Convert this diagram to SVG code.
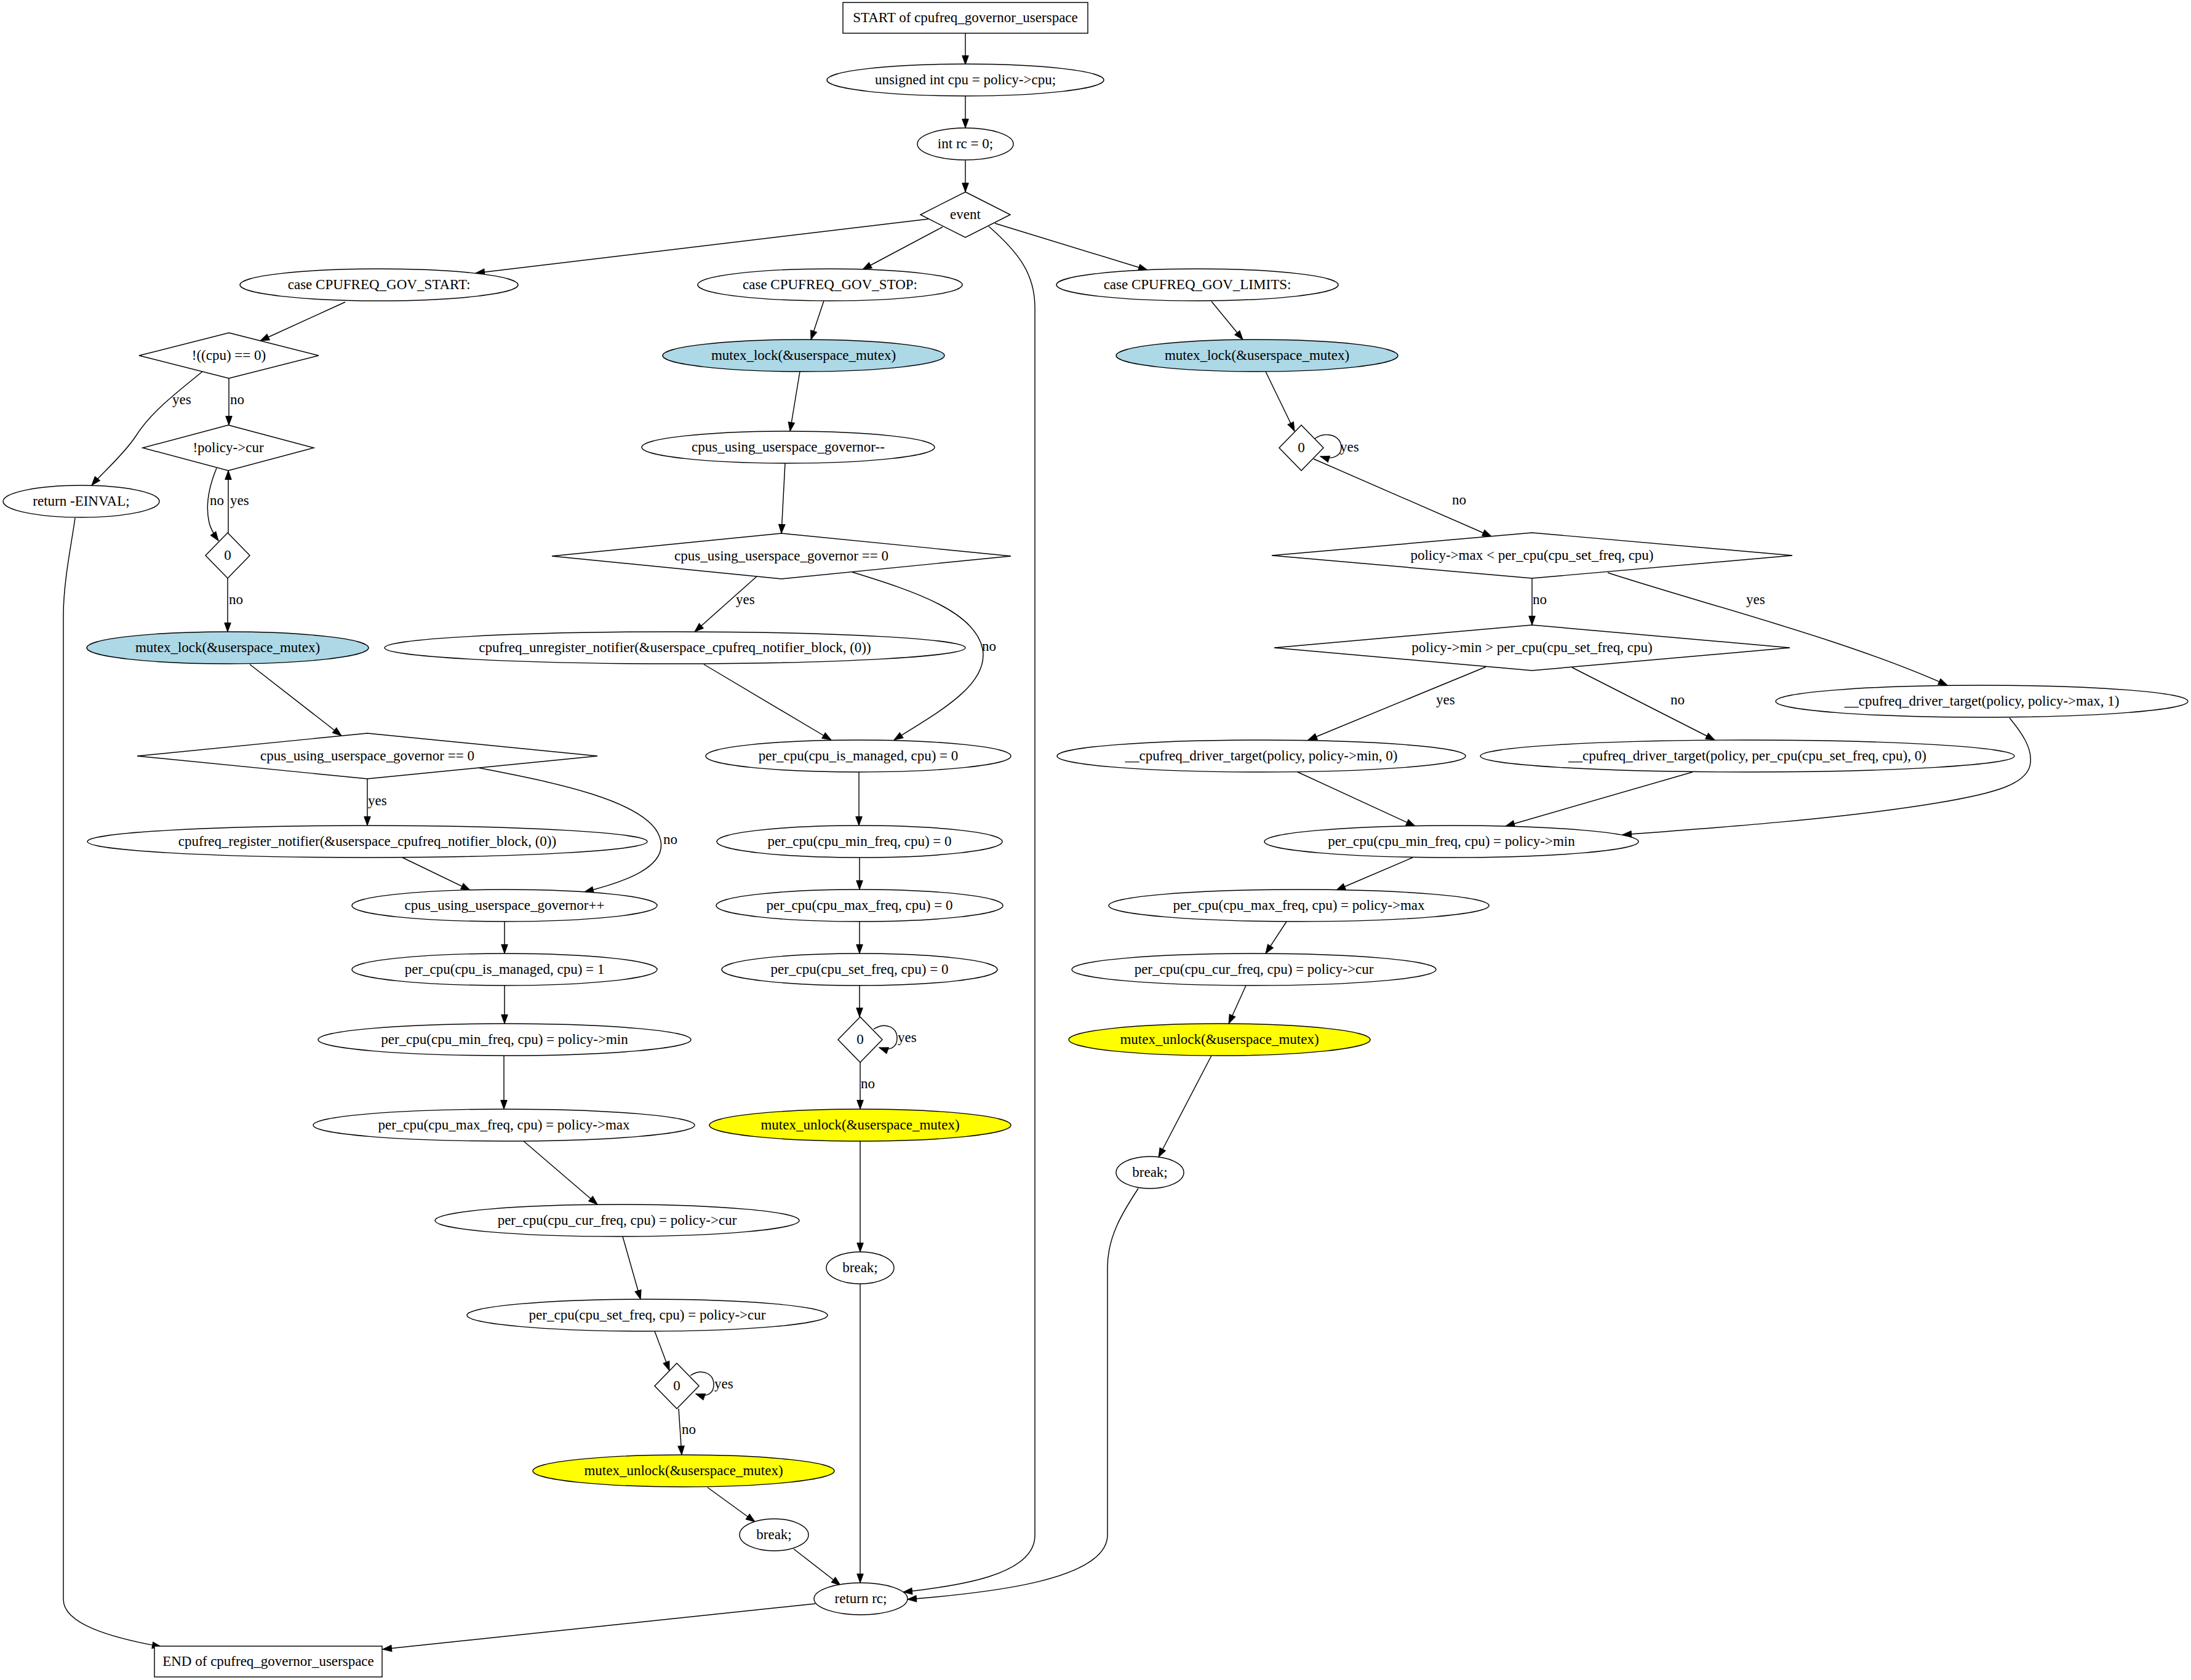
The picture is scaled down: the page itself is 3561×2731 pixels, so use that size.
<svg xmlns="http://www.w3.org/2000/svg" width="3561" height="2731" viewBox="0 0 3561 2731">
<defs>
<style>
.n ellipse,.n polygon,.n rect{fill:#fff;stroke:#000;stroke-width:1.45}
.n.blue ellipse{fill:#add8e6}
.n.yel ellipse{fill:#ffff00}
text{font-family:"Liberation Serif","Times New Roman",serif;font-size:23px;fill:#000}
.n text{text-anchor:middle}
#edges path{fill:none;stroke:#000;stroke-width:1.45;marker-end:url(#ah)}
</style>
<marker id="ah" markerWidth="16" markerHeight="12" refX="14.5" refY="5.25" orient="auto" markerUnits="userSpaceOnUse" overflow="visible">
<path d="M0,0 L14.5,5.25 L0,10.5 z" fill="#000" stroke="#000" stroke-width="1"/>
</marker>
</defs>
<rect width="3561" height="2731" fill="#fff"/>

<g id="edges">
<path d="M1569,54 L1569,105"/>
<path d="M1569,156 L1569,208"/>
<path d="M1569,261 L1569,312"/>
<path d="M1509,356 L773,444"/>
<path d="M1532,369 L1402,438"/>
<path d="M1617,363 L1865,439"/>
<path d="M1607,368 C1655,410 1682,445 1682,500 L1682,2496 C1682,2560 1560,2578 1468,2588"/>
<path d="M561,491 L423,554"/>
<path d="M329,604 C285,640 245,670 220,710 C200,740 165,770 149,789"/>
<path d="M372,615 L372,691"/>
<path d="M352,761 C340,790 333,820 340,850 C343,862 350,872 355,879"/>
<path d="M371,866 L371,765"/>
<path d="M370,940 L370,1027"/>
<path d="M122,842 C117,880 103,945 103,1000 L103,2600 C103,2640 180,2662 262,2677"/>
<path d="M406,1080 L555,1196"/>
<path d="M597,1266 L597,1342"/>
<path d="M777,1248 C890,1270 1050,1300 1072,1360 C1090,1410 1010,1435 950,1450"/>
<path d="M654,1394 L764,1447"/>
<path d="M820,1498 L820,1550"/>
<path d="M820,1602 L820,1664"/>
<path d="M819,1716 L819,1803"/>
<path d="M851,1855 L971,1958"/>
<path d="M1012,2010 L1041,2112"/>
<path d="M1064,2164 L1088,2228"/>
<path d="M1122,2236 C1140,2224 1160,2232 1160,2251 C1160,2266 1148,2272 1131,2266"/>
<path d="M1103,2290 L1108,2365"/>
<path d="M1150,2418 L1227,2474"/>
<path d="M1290,2518 L1366,2577"/>
<path d="M1325,2607 L622,2681"/>
<path d="M1339,489 L1318,552"/>
<path d="M1300,604 L1284,701"/>
<path d="M1276,753 L1270,867"/>
<path d="M1230,937 L1129,1027"/>
<path d="M1385,930 C1490,962 1585,995 1597,1055 C1608,1115 1520,1160 1453,1203"/>
<path d="M1144,1080 L1351,1203"/>
<path d="M1396,1255 L1396,1342"/>
<path d="M1397,1394 L1397,1446"/>
<path d="M1397,1498 L1397,1550"/>
<path d="M1397,1602 L1397,1653"/>
<path d="M1420,1673 C1438,1661 1458,1669 1458,1688 C1458,1703 1446,1709 1429,1703"/>
<path d="M1398,1727 L1398,1803"/>
<path d="M1398,1855 L1398,2035"/>
<path d="M1398,2087 L1398,2573"/>
<path d="M1969,490 L2020,552"/>
<path d="M2057,604 L2104,701"/>
<path d="M2137,713 C2155,700 2180,708 2180,727 C2180,742 2165,748 2146,742"/>
<path d="M2135,746 L2424,872"/>
<path d="M2490,940 L2490,1016"/>
<path d="M2613,931 C2780,985 3000,1040 3165,1114"/>
<path d="M2415,1084 L2126,1203"/>
<path d="M2555,1085 L2787,1203"/>
<path d="M2109,1255 L2300,1343"/>
<path d="M2751,1255 L2447,1343"/>
<path d="M3266,1167 C3285,1190 3303,1215 3300,1240 C3297,1275 3240,1290 3150,1305 C3000,1330 2800,1345 2637,1357"/>
<path d="M2296,1394 L2172,1447"/>
<path d="M2091,1498 L2057,1550"/>
<path d="M2025,1602 L1997,1664"/>
<path d="M1969,1716 L1883,1881"/>
<path d="M1850,1932 C1825,1970 1800,2010 1800,2060 L1800,2495 C1800,2570 1600,2590 1475,2600"/>
<text x="280" y="657">yes</text>
<text x="374" y="657">no</text>
<text x="341" y="821">no</text>
<text x="374" y="821">yes</text>
<text x="372" y="982">no</text>
<text x="598" y="1309">yes</text>
<text x="1078" y="1372">no</text>
<text x="1161" y="2257">yes</text>
<text x="1108" y="2331">no</text>
<text x="1196" y="982">yes</text>
<text x="1596" y="1058">no</text>
<text x="1459" y="1694">yes</text>
<text x="1399" y="1769">no</text>
<text x="2178" y="734">yes</text>
<text x="2360" y="820">no</text>
<text x="2491" y="982">no</text>
<text x="2838" y="982">yes</text>
<text x="2334" y="1145">yes</text>
<text x="2715" y="1145">no</text>
</g>

<g id="start" class="n"><rect x="1370" y="4" width="398" height="50"/><text x="1569" y="36">START of cpufreq_governor_userspace</text></g>
<g id="unsigned_cpu" class="n"><ellipse cx="1569" cy="130" rx="225" ry="26"/><text x="1569" y="137">unsigned int cpu = policy-&gt;cpu;</text></g>
<g id="int_rc" class="n"><ellipse cx="1569" cy="234" rx="78" ry="26"/><text x="1569" y="241">int rc = 0;</text></g>
<g id="event" class="n"><polygon points="1569,312 1642,349 1569,386 1496,349"/><text x="1569" y="356">event</text></g>

<g id="case_start" class="n"><ellipse cx="616" cy="463" rx="226" ry="26"/><text x="616" y="470">case CPUFREQ_GOV_START:</text></g>
<g id="case_stop" class="n"><ellipse cx="1349" cy="463" rx="215" ry="26"/><text x="1349" y="470">case CPUFREQ_GOV_STOP:</text></g>
<g id="case_limits" class="n"><ellipse cx="1946" cy="463" rx="229" ry="26"/><text x="1946" y="470">case CPUFREQ_GOV_LIMITS:</text></g>

<g id="cond_cpu" class="n"><polygon points="372,541 518,578 372,615 226,578"/><text x="372" y="585">!((cpu) == 0)</text></g>
<g id="ret_einval" class="n"><ellipse cx="132" cy="815" rx="127" ry="26"/><text x="132" y="822">return -EINVAL;</text></g>
<g id="cond_cur" class="n"><polygon points="371,691 510,728 371,765 232,728"/><text x="371" y="735">!policy-&gt;cur</text></g>
<g id="loop_start1" class="n"><polygon points="370,866 406,903 370,940 334,903"/><text x="370" y="910">0</text></g>
<g id="lock_start" class="n blue"><ellipse cx="370" cy="1053" rx="229" ry="26"/><text x="370" y="1060">mutex_lock(&amp;userspace_mutex)</text></g>
<g id="cond_users_start" class="n"><polygon points="597,1192 971,1229 597,1266 223,1229"/><text x="597" y="1236">cpus_using_userspace_governor == 0</text></g>
<g id="register" class="n"><ellipse cx="597" cy="1368" rx="455" ry="26"/><text x="597" y="1375">cpufreq_register_notifier(&amp;userspace_cpufreq_notifier_block, (0))</text></g>
<g id="users_inc" class="n"><ellipse cx="820" cy="1472" rx="248" ry="26"/><text x="820" y="1479">cpus_using_userspace_governor++</text></g>
<g id="managed1" class="n"><ellipse cx="820" cy="1576" rx="248" ry="26"/><text x="820" y="1583">per_cpu(cpu_is_managed, cpu) = 1</text></g>
<g id="min_start" class="n"><ellipse cx="820" cy="1690" rx="303" ry="26"/><text x="820" y="1697">per_cpu(cpu_min_freq, cpu) = policy-&gt;min</text></g>
<g id="max_start" class="n"><ellipse cx="819" cy="1829" rx="310" ry="26"/><text x="819" y="1836">per_cpu(cpu_max_freq, cpu) = policy-&gt;max</text></g>
<g id="cur_start" class="n"><ellipse cx="1003" cy="1984" rx="296" ry="26"/><text x="1003" y="1991">per_cpu(cpu_cur_freq, cpu) = policy-&gt;cur</text></g>
<g id="set_start" class="n"><ellipse cx="1052" cy="2138" rx="293" ry="26"/><text x="1052" y="2145">per_cpu(cpu_set_freq, cpu) = policy-&gt;cur</text></g>
<g id="loop_start2" class="n"><polygon points="1100,2216 1136,2253 1100,2290 1064,2253"/><text x="1100" y="2260">0</text></g>
<g id="unlock_start" class="n yel"><ellipse cx="1111" cy="2391" rx="245" ry="26"/><text x="1111" y="2398">mutex_unlock(&amp;userspace_mutex)</text></g>
<g id="break_start" class="n"><ellipse cx="1258" cy="2495" rx="56" ry="26"/><text x="1258" y="2502">break;</text></g>

<g id="lock_stop" class="n blue"><ellipse cx="1306" cy="578" rx="229" ry="26"/><text x="1306" y="585">mutex_lock(&amp;userspace_mutex)</text></g>
<g id="users_dec" class="n"><ellipse cx="1281" cy="727" rx="238" ry="26"/><text x="1281" y="734">cpus_using_userspace_governor--</text></g>
<g id="cond_users_stop" class="n"><polygon points="1270,867 1643,904 1270,941 897,904"/><text x="1270" y="911">cpus_using_userspace_governor == 0</text></g>
<g id="unregister" class="n"><ellipse cx="1097" cy="1053" rx="472" ry="26"/><text x="1097" y="1060">cpufreq_unregister_notifier(&amp;userspace_cpufreq_notifier_block, (0))</text></g>
<g id="managed0" class="n"><ellipse cx="1395" cy="1229" rx="248" ry="26"/><text x="1395" y="1236">per_cpu(cpu_is_managed, cpu) = 0</text></g>
<g id="min0" class="n"><ellipse cx="1397" cy="1368" rx="232" ry="26"/><text x="1397" y="1375">per_cpu(cpu_min_freq, cpu) = 0</text></g>
<g id="max0" class="n"><ellipse cx="1397" cy="1472" rx="233" ry="26"/><text x="1397" y="1479">per_cpu(cpu_max_freq, cpu) = 0</text></g>
<g id="set0" class="n"><ellipse cx="1397" cy="1576" rx="224" ry="26"/><text x="1397" y="1583">per_cpu(cpu_set_freq, cpu) = 0</text></g>
<g id="loop_stop" class="n"><polygon points="1398,1653 1434,1690 1398,1727 1362,1690"/><text x="1398" y="1697">0</text></g>
<g id="unlock_stop" class="n yel"><ellipse cx="1398" cy="1829" rx="245" ry="26"/><text x="1398" y="1836">mutex_unlock(&amp;userspace_mutex)</text></g>
<g id="break_stop" class="n"><ellipse cx="1398" cy="2061" rx="55" ry="26"/><text x="1398" y="2068">break;</text></g>

<g id="lock_limits" class="n blue"><ellipse cx="2043" cy="578" rx="229" ry="26"/><text x="2043" y="585">mutex_lock(&amp;userspace_mutex)</text></g>
<g id="loop_limits" class="n"><polygon points="2115,691 2151,728 2115,765 2079,728"/><text x="2115" y="735">0</text></g>
<g id="cond_max" class="n"><polygon points="2490,866 2913,903 2490,940 2067,903"/><text x="2490" y="910">policy-&gt;max &lt; per_cpu(cpu_set_freq, cpu)</text></g>
<g id="cond_min" class="n"><polygon points="2490,1016 2909,1053 2490,1090 2071,1053"/><text x="2490" y="1060">policy-&gt;min &gt; per_cpu(cpu_set_freq, cpu)</text></g>
<g id="target_max" class="n"><ellipse cx="3221" cy="1140" rx="335" ry="26"/><text x="3221" y="1147">__cpufreq_driver_target(policy, policy-&gt;max, 1)</text></g>
<g id="target_min" class="n"><ellipse cx="2050" cy="1229" rx="332" ry="26"/><text x="2050" y="1236">__cpufreq_driver_target(policy, policy-&gt;min, 0)</text></g>
<g id="target_set" class="n"><ellipse cx="2840" cy="1229" rx="434" ry="26"/><text x="2840" y="1236">__cpufreq_driver_target(policy, per_cpu(cpu_set_freq, cpu), 0)</text></g>
<g id="min_limits" class="n"><ellipse cx="2359" cy="1368" rx="304" ry="26"/><text x="2359" y="1375">per_cpu(cpu_min_freq, cpu) = policy-&gt;min</text></g>
<g id="max_limits" class="n"><ellipse cx="2111" cy="1472" rx="309" ry="26"/><text x="2111" y="1479">per_cpu(cpu_max_freq, cpu) = policy-&gt;max</text></g>
<g id="cur_limits" class="n"><ellipse cx="2038" cy="1576" rx="296" ry="26"/><text x="2038" y="1583">per_cpu(cpu_cur_freq, cpu) = policy-&gt;cur</text></g>
<g id="unlock_limits" class="n yel"><ellipse cx="1982" cy="1690" rx="245" ry="26"/><text x="1982" y="1697">mutex_unlock(&amp;userspace_mutex)</text></g>
<g id="break_limits" class="n"><ellipse cx="1869" cy="1906" rx="55" ry="26"/><text x="1869" y="1913">break;</text></g>

<g id="return_rc" class="n"><ellipse cx="1399" cy="2599" rx="76" ry="26"/><text x="1399" y="2606">return rc;</text></g>
<g id="end" class="n"><rect x="251" y="2676" width="370" height="50"/><text x="436" y="2708">END of cpufreq_governor_userspace</text></g>
</svg>
